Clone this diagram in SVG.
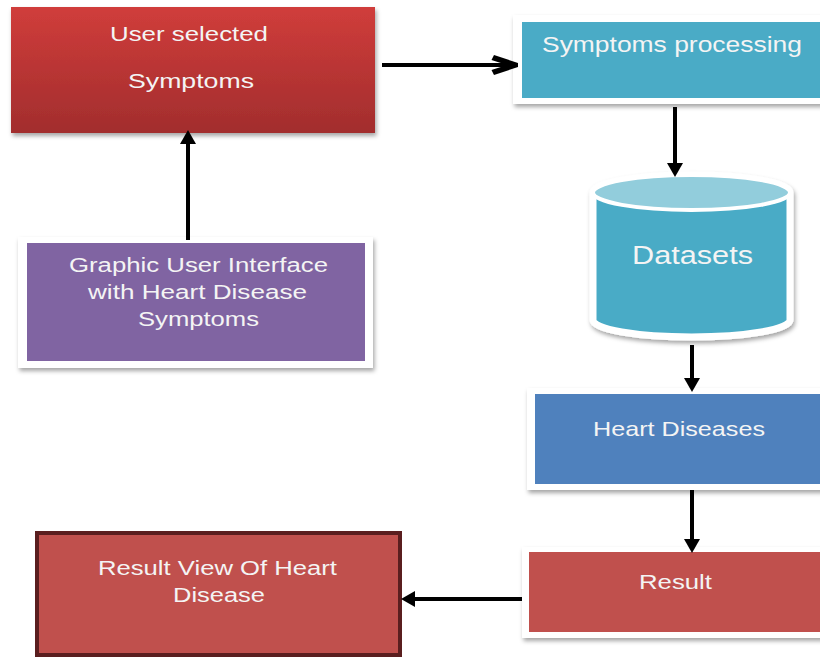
<svg xmlns="http://www.w3.org/2000/svg" width="820" height="658" viewBox="0 0 820 658">
<defs>
<linearGradient id="redGrad" x1="0" y1="0" x2="0" y2="1">
<stop offset="0" stop-color="#d03d3b"/>
<stop offset="1" stop-color="#a22d2d"/>
</linearGradient>
<filter id="sh" x="-10%" y="-10%" width="125%" height="130%">
<feDropShadow dx="1.5" dy="3" stdDeviation="2" flood-color="#000" flood-opacity="0.35"/>
</filter>
<marker id="tri" viewBox="0 0 14 16" refX="4" refY="8" markerWidth="14" markerHeight="16" markerUnits="userSpaceOnUse" orient="auto">
<path d="M0,0 L14,8 L0,16 Z" fill="#000"/>
</marker>
<marker id="chev" viewBox="-3 0 28 20" refX="20" refY="10" markerWidth="28" markerHeight="20" markerUnits="userSpaceOnUse" orient="auto">
<path d="M0,0 L24,8 L24,12 L0,20 L-2.5,15 L13,10 L-2.5,5 Z" fill="#000"/>
</marker>
</defs>
<style>
.lbl{font-family:"Liberation Sans",Arial,sans-serif;fill:#f4f4f4;font-size:20px}
.frame{fill:#fff;filter:url(#sh)}
.conn{stroke:#000;stroke-width:4;fill:none}
</style>
<rect width="820" height="658" fill="#fff"/>

<g id="user-selected">
<rect x="11" y="7" width="364" height="126" fill="url(#redGrad)" filter="url(#sh)"/>
<text class="lbl" x="110" y="41" textLength="158" lengthAdjust="spacingAndGlyphs">User selected</text>
<text class="lbl" x="128" y="88" textLength="126" lengthAdjust="spacingAndGlyphs">Symptoms</text>
</g>

<g id="symptoms-processing">
<rect class="frame" x="513" y="15" width="320" height="89"/>
<rect x="522" y="22" width="310" height="76" fill="#4aabc6"/>
<text class="lbl" x="542" y="52" style="font-size:22px" textLength="260" lengthAdjust="spacingAndGlyphs">Symptoms processing</text>
</g>

<g id="datasets">
<path d="M593,192.5 A98.5,17.5 0 0 1 790,192.5 V320 A98.5,17 0 0 1 593,320 Z" fill="#4aabc6" stroke="#fff" stroke-width="7" filter="url(#sh)"/>
<ellipse cx="691.5" cy="192.5" rx="98.5" ry="17.5" fill="#92cddc" stroke="#fff" stroke-width="4"/>
<text class="lbl" x="632" y="264" style="font-size:26px" textLength="121" lengthAdjust="spacingAndGlyphs">Datasets</text>
</g>

<g id="gui">
<rect class="frame" x="18" y="237" width="355" height="131"/>
<rect x="27" y="243" width="338" height="118" fill="#8064a2"/>
<text class="lbl" x="69" y="272" textLength="259" lengthAdjust="spacingAndGlyphs">Graphic User Interface</text>
<text class="lbl" x="88" y="299" textLength="219" lengthAdjust="spacingAndGlyphs">with Heart Disease</text>
<text class="lbl" x="138" y="326" textLength="121" lengthAdjust="spacingAndGlyphs">Symptoms</text>
</g>

<g id="heart-diseases">
<rect class="frame" x="527" y="388" width="310" height="102"/>
<rect x="535" y="394" width="300" height="90" fill="#4f81bd"/>
<text class="lbl" x="593" y="436" style="font-size:21px" textLength="172" lengthAdjust="spacingAndGlyphs">Heart Diseases</text>
</g>

<g id="result">
<rect class="frame" x="522" y="547" width="315" height="91"/>
<rect x="529" y="552" width="305" height="80" fill="#c0504d"/>
<text class="lbl" x="639" y="589" style="font-size:21px" textLength="73" lengthAdjust="spacingAndGlyphs">Result</text>
</g>

<g id="result-view">
<rect x="37" y="533" width="363" height="122" fill="#c0504d" stroke="#5a1e1f" stroke-width="4"/>
<text class="lbl" x="98" y="575" textLength="239" lengthAdjust="spacingAndGlyphs">Result View Of Heart</text>
<text class="lbl" x="173" y="602" textLength="92" lengthAdjust="spacingAndGlyphs">Disease</text>
</g>

<g id="connectors">
<line class="conn" x1="382" y1="65" x2="514" y2="65" marker-end="url(#chev)"/>
<line class="conn" x1="675" y1="107" x2="675" y2="167" marker-end="url(#tri)"/>
<line class="conn" x1="692" y1="345" x2="692" y2="382" marker-end="url(#tri)"/>
<line class="conn" x1="692" y1="490" x2="692" y2="543" marker-end="url(#tri)"/>
<line class="conn" x1="522" y1="599" x2="411" y2="599" marker-end="url(#tri)"/>
<line class="conn" x1="188" y1="240" x2="188" y2="140" marker-end="url(#tri)"/>
</g>
</svg>
